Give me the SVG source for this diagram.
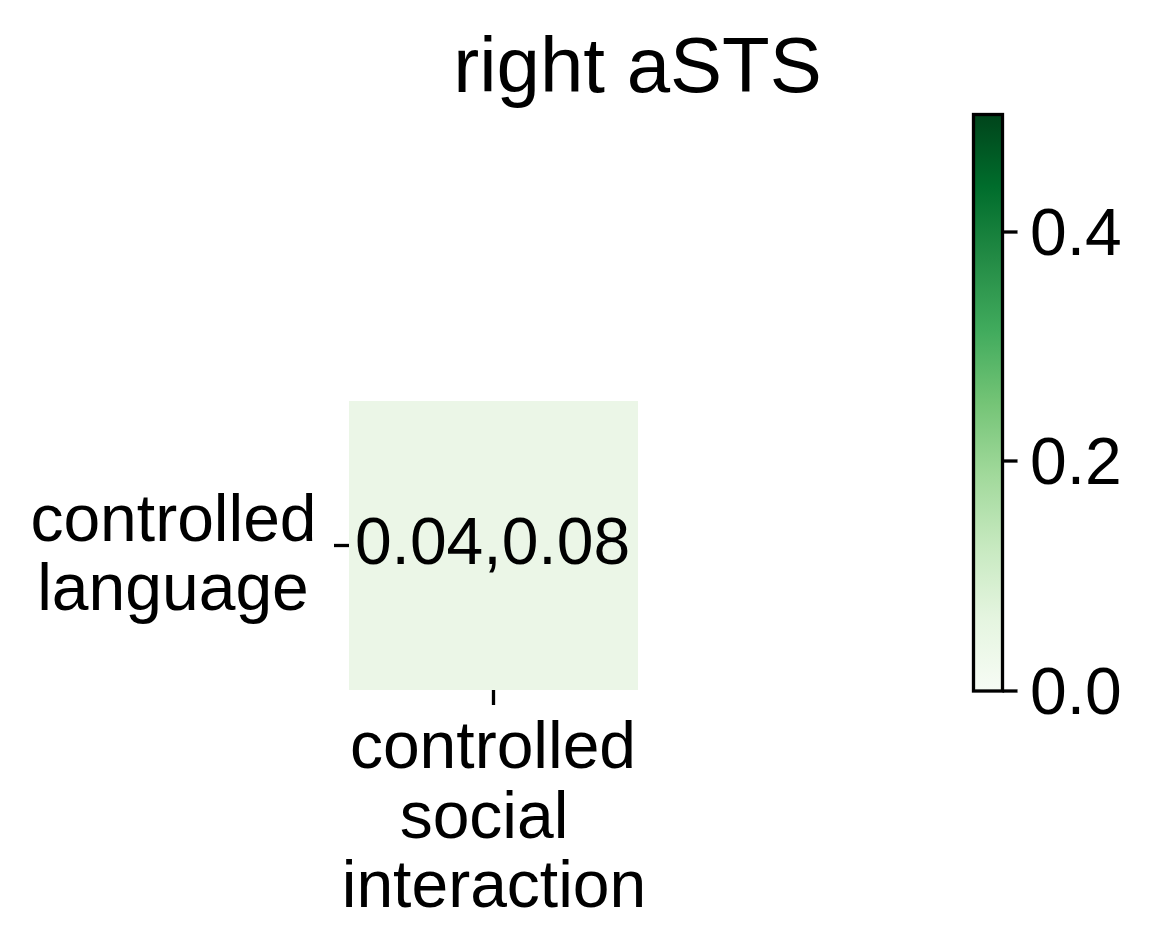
<svg xmlns="http://www.w3.org/2000/svg" width="1153" height="949" viewBox="0 0 1153 949">
<style>
text{font-family:"Liberation Sans",Arial,sans-serif;fill:#000;}
.lbl{font-size:66px;}
.title{font-size:78px;}
.tick{stroke:#000;stroke-width:3.3;fill:none;}
</style>
<defs>
<linearGradient id="greens" x1="0" y1="1" x2="0" y2="0">
<stop offset="0" stop-color="#f7fcf5"/>
<stop offset="0.125" stop-color="#e5f5e0"/>
<stop offset="0.25" stop-color="#c7e9c0"/>
<stop offset="0.375" stop-color="#a1d99b"/>
<stop offset="0.5" stop-color="#74c476"/>
<stop offset="0.625" stop-color="#41ab5d"/>
<stop offset="0.75" stop-color="#238b45"/>
<stop offset="0.875" stop-color="#006d2c"/>
<stop offset="1" stop-color="#00441b"/>
</linearGradient>
</defs>
<rect width="1153" height="949" fill="#fff"/>
<text class="title" x="637.5" y="92" text-anchor="middle">right aSTS</text>
<g id="cell">
<rect x="349" y="401" width="289" height="289" fill="#ebf6e7"/>
<text class="lbl" x="492.5" y="564" text-anchor="middle">0.04,0.08</text>
</g>
<g id="axes">
<line class="tick" x1="334" y1="545.5" x2="349" y2="545.5"/>
<line class="tick" x1="493.5" y1="690" x2="493.5" y2="705"/>
<text class="lbl" x="173.5" y="541" text-anchor="middle">controlled</text>
<text class="lbl" x="173" y="610" text-anchor="middle">language</text>
<text class="lbl" x="493" y="768" text-anchor="middle">controlled</text>
<text class="lbl" x="484" y="838" text-anchor="middle">social</text>
<text class="lbl" x="494" y="907" text-anchor="middle">interaction</text>
</g>
<g id="colorbar">
<rect x="973.5" y="114.5" width="29" height="576.5" fill="url(#greens)" stroke="#000" stroke-width="3.3"/>
<line class="tick" x1="1002.5" y1="232" x2="1017.5" y2="232"/>
<line class="tick" x1="1002.5" y1="461" x2="1017.5" y2="461"/>
<line class="tick" x1="1002.5" y1="691" x2="1017.5" y2="691"/>
<text class="lbl" x="1030" y="255">0.4</text>
<text class="lbl" x="1030" y="484">0.2</text>
<text class="lbl" x="1030" y="714">0.0</text>
</g>
</svg>
